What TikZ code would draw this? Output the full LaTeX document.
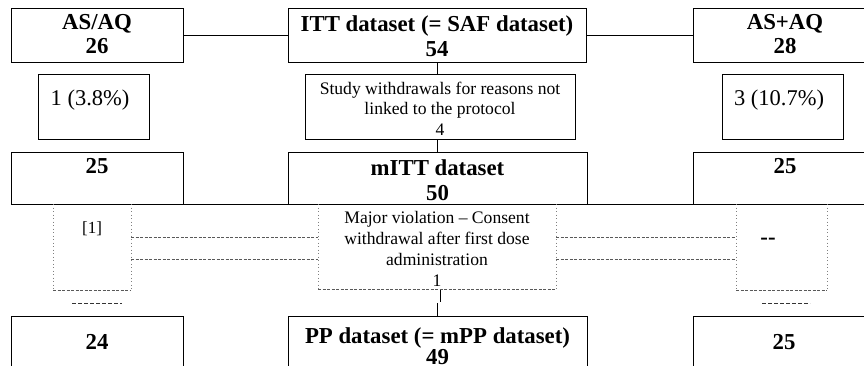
\documentclass[tikz,border=0pt]{standalone}
\usepackage{fontspec}
\setmainfont{Liberation Serif}
\begin{document}
\begin{tikzpicture}[x=1pt,y=-1pt,
  box/.style={draw, line width=0.8pt, inner sep=0pt, outer sep=0pt},
  frame/.style={inner sep=0pt, outer sep=0pt},
  head/.style={font=\fontsize{22.8}{25}\selectfont\bfseries, align=center, inner sep=0pt},
  note/.style={font=\fontsize{17.6}{20.5}\selectfont, align=center, inner sep=0pt},
  count/.style={font=\fontsize{22.5}{26}\selectfont, inner sep=0pt},
  link/.style={line width=0.8pt},
  dotside/.style={gray, line width=0.9pt, dash pattern=on 0.9pt off 2.6pt},
  dashrule/.style={gray!70!black, line width=0.8pt, dash pattern=on 3pt off 1.5pt},
  shortdash/.style={black!80, line width=0.8pt, dash pattern=on 4pt off 2pt},
]
\useasboundingbox (0,0) rectangle (864,365);

% row 1: treatment arms and the ITT set
\node[box, minimum width=172pt, minimum height=54pt] (asaq) at (97,35) {};
\node[box, minimum width=298pt, minimum height=54pt] (itt) at (437,35) {};
\node[box, minimum width=184pt, minimum height=54pt] (aspaq) at (785,35) {};

% row 2: study withdrawals
\node[box, minimum width=111pt, minimum height=65pt] (wdl) at (93.5,106.5) {};
\node[box, minimum width=270pt, minimum height=65pt] (wdm) at (440,106.5) {};
\node[box, minimum width=121pt, minimum height=65pt] (wdr) at (782.5,106.5) {};

% row 3: mITT set
\node[box, minimum width=172pt, minimum height=52pt] (mitl) at (97,178) {};
\node[box, minimum width=299pt, minimum height=52pt] (mitt) at (437.5,178) {};
\node[box, minimum width=184pt, minimum height=52pt] (mitr) at (785,178) {};

% row 4: protocol violations (open frames)
\node[frame, minimum width=78pt, minimum height=86pt] (vl) at (92,247) {};
\node[frame, minimum width=238pt, minimum height=85pt] (vm) at (437,246.5) {};
\node[frame, minimum width=91pt, minimum height=86pt] (vr) at (781.5,247) {};

% row 5: PP set
\node[box, minimum width=172pt, minimum height=70pt] (ppl) at (97,351) {};
\node[box, minimum width=299pt, minimum height=70pt] (pp) at (437.5,351) {};
\node[box, minimum width=184pt, minimum height=70pt] (ppr) at (785,351) {};

% connectors
\draw[link] (asaq.east) -- (itt.west);
\draw[link] (itt.east) -- (aspaq.west);
\draw[link] (itt.south) -- (itt.south |- wdm.north);
\draw[link] (wdm.south -| mitt.north) -- (mitt.north);
\draw[link] (mitl.south west) -- (mitr.south east);
\draw[link] ([xshift=3pt]vm.south) -- ++(0,13);
\draw[link] (pp.north) -- ++(0,-13);

% violation frames
\draw[dotside] (vl.north west) -- (vl.south west) (vl.north east) -- (vl.south east);
\draw[dotside] (vm.north west) -- (vm.south west) (vm.north east) -- (vm.south east);
\draw[dotside] (vr.north west) -- (vr.south west) (vr.north east) -- (vr.south east);
\draw[dashrule] (vl.south west) -- (vl.south east);
\draw[dashrule] (vm.south west) -- (vm.south east);
\draw[dashrule] (vr.south west) -- (vr.south east);

\coordinate (r1) at (0,237);
\coordinate (r2) at (0,259);
\draw[dashrule] (vl.east |- r1) -- (vm.west |- r1);
\draw[dashrule] (vl.east |- r2) -- (vm.west |- r2);
\draw[dashrule] (vm.east |- r1) -- (vr.west |- r1);
\draw[dashrule] (vm.east |- r2) -- (vr.west |- r2);

\draw[shortdash] ([xshift=-20pt,yshift=-13pt]vl.south) -- ([xshift=30pt,yshift=-13pt]vl.south);
\draw[shortdash] ([xshift=-19.5pt,yshift=-13pt]vr.south) -- ([xshift=28.5pt,yshift=-13pt]vr.south);

% texts
\node[head, font=\fontsize{22.8}{24}\selectfont\bfseries] (t1) at (97,34.5) {AS/AQ\\26};
\node[head, font=\fontsize{22.8}{25}\selectfont\bfseries] (t2) at (437,36) {ITT dataset (= SAF dataset)\\54};
\node[head, font=\fontsize{22.8}{24}\selectfont\bfseries] (t3) at (785,34.5) {AS+AQ\\28};
\node[count] (t4) at (90,100) {1 (3.8\%)};
\node[note] (t5) at (440,108.5) {Study withdrawals for reasons not\\linked to the protocol\\4};
\node[count] (t6) at (779,100) {3 (10.7\%)};
\node[head] (t7) at (97,166.5) {25};
\node[head] (t8) at (437.5,180.5) {mITT dataset\\50};
\node[head] (t9) at (785,166.5) {25};
\node[note, font=\fontsize{17}{20}\selectfont] (t10) at (92,228.5) {[1]};
\node[note, font=\fontsize{17.6}{21}\selectfont] (t11) at (437,249) {Major violation \textendash{} Consent\\withdrawal after first dose\\administration\\1};
\node[head] (t12) at (768,241) {-{}-};
\node[head] (t13) at (97,342) {24};
\node[head, font=\fontsize{22.8}{19}\selectfont\bfseries] (t14) at (437.5,346) {PP dataset (= mPP dataset)\\49};
\node[head] (t15) at (784,342) {25};
\end{tikzpicture}
\end{document}
